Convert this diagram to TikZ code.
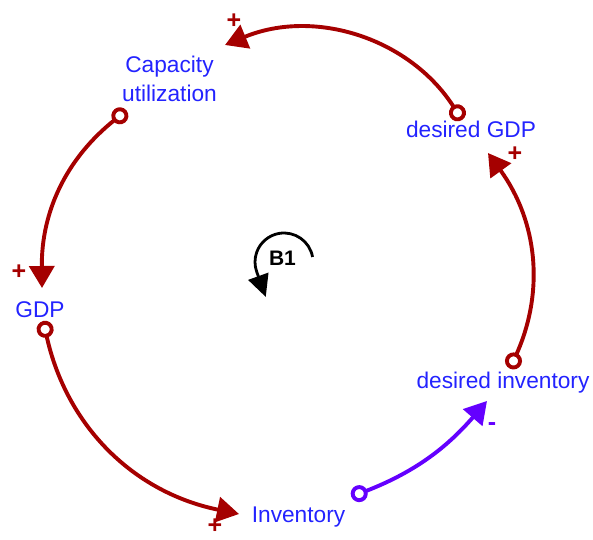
\documentclass[tikz,border=0pt]{standalone}
\usepackage{fontspec}
\setmainfont{Liberation Sans}
\usetikzlibrary{arrows.meta}
\definecolor{linkred}{RGB}{165,0,0}
\definecolor{linkblue}{RGB}{100,0,255}
\definecolor{varblue}{RGB}{35,35,255}
\begin{document}
\begin{tikzpicture}[
    x=1pt, y=1pt,
    varname/.style={
        text=varblue, font=\fontsize{22.7}{29}\selectfont,
        inner sep=0pt, align=center
    },
    polsign/.style={
        font=\fontsize{25}{25}\selectfont\bfseries, inner sep=0pt
    },
    poslink/.style={
        draw=linkred, line width=3.9pt,
        {Circle[open,length=17pt]}-{Triangle[length=22pt,width=25pt]}
    },
    neglink/.style={poslink, draw=linkblue},
    loopmark/.style={
        draw=black, line width=2.8pt, -{Triangle[length=22pt,width=21pt]}
    }
]
\useasboundingbox (0,0) rectangle (593,539);

% Variables
\node[varname] (cap) at (169.5,460) {Capacity\\utilization};
\node[varname, anchor=base] (dgdp) at (471,401) {desired GDP};
\node[varname, anchor=base] (gdp)  at (40,222)  {GDP};
\node[varname, anchor=base] (dinv) at (503,151) {desired inventory};
\node[varname, anchor=base] (inv)  at (298.5,17) {Inventory};

% Link end points
\coordinate (dgdp out) at (462,419);
\coordinate (cap in)   at (225,494);
\coordinate (cap out)  at (126.5,428.5);
\coordinate (gdp in)   at (42,251);
\coordinate (gdp out)  at (43.3,218);
\coordinate (inv in)   at (239,25);
\coordinate (inv out)  at (351.3,42.3);
\coordinate (dinv in)  at (487,138);
\coordinate (dinv out) at (510,170.3);
\coordinate (dgdp in)  at (488,386);

% Causal links
\draw[poslink] (dgdp out) to[bend right=40] (cap in);
\draw[poslink] (cap out)  to[bend right=26] (gdp in);
\draw[poslink] (gdp out)  to[bend right=33] (inv in);
\draw[neglink] (inv out)  to[bend right=14] (dinv in);
\draw[poslink] (dinv out) to[bend right=30] (dgdp in);

% Polarities
\node[polsign, text=linkred]  (pol cap)  at (234,518) {+};
\node[polsign, text=linkred]  (pol gdp)  at (19,267)  {+};
\node[polsign, text=linkred]  (pol inv)  at (215,13)  {+};
\node[polsign, text=linkblue] (pol dinv) at (492,112) {-};
\node[polsign, text=linkred]  (pol dgdp) at (515,385) {+};

% Loop marker
\node[font=\fontsize{21}{21}\selectfont\bfseries, inner sep=0pt, anchor=base] (b1) at (282.5,274) {B1};
\coordinate (b1 c) at (284,277);
\draw[loopmark] ([shift={(10:29)}]b1 c) arc[start angle=10, end angle=200, radius=29] -- ++(9,-25);

\end{tikzpicture}
\end{document}
